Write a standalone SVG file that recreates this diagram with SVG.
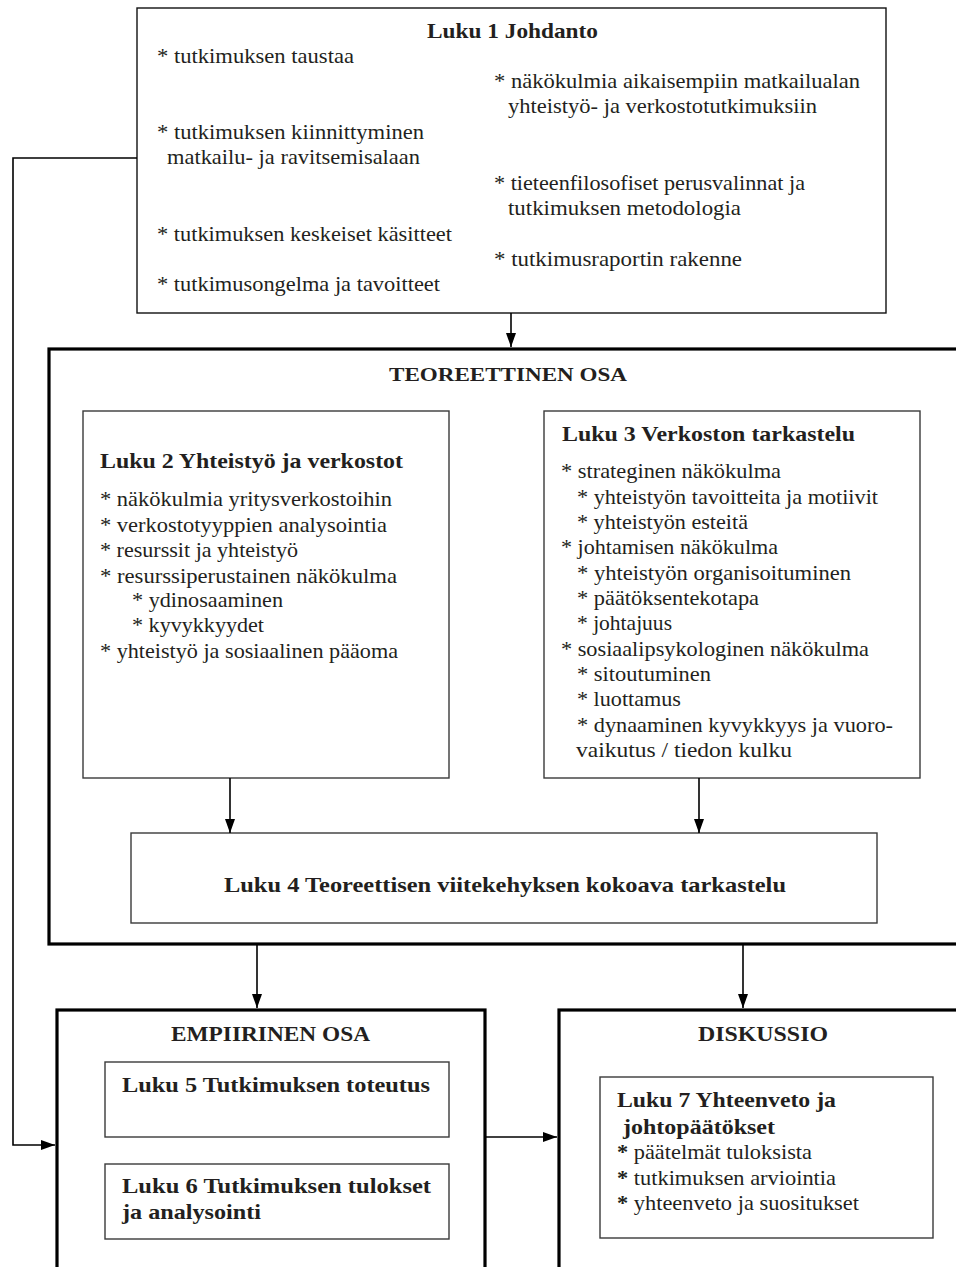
<svg xmlns="http://www.w3.org/2000/svg" width="956" height="1267" viewBox="0 0 956 1267">
  <style>
    text { font-family: "Liberation Serif", "DejaVu Serif", serif; fill: #231f20; }
    .t { font-size: 22px; font-weight: bold; }
    .b { font-size: 21px; }
    .h { font-size: 21px; font-weight: bold; }
    .cap { font-size: 19px; font-weight: bold; }
    .st { font-weight: bold; }
    .thin { fill: #fff; stroke: #111; stroke-width: 1.4; }
    .inner { fill: #fff; stroke: #3a3a3a; stroke-width: 1.4; }
    .thick { fill: #fff; stroke: #000; stroke-width: 3.2; }
    .con { fill: none; stroke: #000; stroke-width: 1.6; }
  </style>
  <defs>
    <marker id="arr" markerUnits="userSpaceOnUse" viewBox="0 0 14 10" markerWidth="14" markerHeight="10" refX="14" refY="5" orient="auto">
      <path d="M0,0 L14,5 L0,10 z" fill="#000"/>
    </marker>
  </defs>
  <rect width="956" height="1267" fill="#fff"/>

  <!-- Chapter 1 -->
  <g id="luku1">
    <rect class="thin" x="137" y="8" width="749" height="305"/>
    <text class="t" x="427" y="38" textLength="171" lengthAdjust="spacingAndGlyphs">Luku 1 Johdanto</text>
    <text class="b" x="157" y="63" textLength="197" lengthAdjust="spacingAndGlyphs">* tutkimuksen taustaa</text>
    <text class="b" x="494" y="88" textLength="366" lengthAdjust="spacingAndGlyphs">* näkökulmia aikaisempiin matkailualan</text>
    <text class="b" x="508" y="113" textLength="309" lengthAdjust="spacingAndGlyphs">yhteistyö- ja verkostotutkimuksiin</text>
    <text class="b" x="157" y="139" textLength="267" lengthAdjust="spacingAndGlyphs">* tutkimuksen kiinnittyminen</text>
    <text class="b" x="167" y="164" textLength="253" lengthAdjust="spacingAndGlyphs">matkailu- ja ravitsemisalaan</text>
    <text class="b" x="494" y="190" textLength="311" lengthAdjust="spacingAndGlyphs">* tieteenfilosofiset perusvalinnat ja</text>
    <text class="b" x="508" y="215" textLength="233" lengthAdjust="spacingAndGlyphs">tutkimuksen metodologia</text>
    <text class="b" x="157" y="241" textLength="295" lengthAdjust="spacingAndGlyphs">* tutkimuksen keskeiset käsitteet</text>
    <text class="b" x="494" y="266" textLength="248" lengthAdjust="spacingAndGlyphs">* tutkimusraportin rakenne</text>
    <text class="b" x="157" y="291" textLength="283" lengthAdjust="spacingAndGlyphs">* tutkimusongelma ja tavoitteet</text>
  </g>

  <!-- Theoretical part -->
  <g id="teoreettinen">
    <rect class="thick" x="49" y="349" width="930" height="595"/>
    <text class="cap" x="389" y="381" textLength="238" lengthAdjust="spacingAndGlyphs">TEOREETTINEN OSA</text>
  </g>

  <g id="luku2">
    <rect class="inner" x="83" y="411" width="366" height="367"/>
    <text class="h" x="100" y="468" textLength="303" lengthAdjust="spacingAndGlyphs">Luku 2 Yhteistyö ja verkostot</text>
    <text class="b" x="100" y="506" textLength="292" lengthAdjust="spacingAndGlyphs">* näkökulmia yritysverkostoihin</text>
    <text class="b" x="100" y="532" textLength="287" lengthAdjust="spacingAndGlyphs">* verkostotyyppien analysointia</text>
    <text class="b" x="100" y="557" textLength="198" lengthAdjust="spacingAndGlyphs">* resurssit ja yhteistyö</text>
    <text class="b" x="100" y="583" textLength="297" lengthAdjust="spacingAndGlyphs">* resurssiperustainen näkökulma</text>
    <text class="b" x="132" y="607" textLength="151" lengthAdjust="spacingAndGlyphs">* ydinosaaminen</text>
    <text class="b" x="132" y="632" textLength="132" lengthAdjust="spacingAndGlyphs">* kyvykkyydet</text>
    <text class="b" x="100" y="658" textLength="298" lengthAdjust="spacingAndGlyphs">* yhteistyö ja sosiaalinen pääoma</text>
  </g>

  <g id="luku3">
    <rect class="inner" x="544" y="411" width="376" height="367"/>
    <text class="h" x="562" y="441" textLength="293" lengthAdjust="spacingAndGlyphs">Luku 3 Verkoston tarkastelu</text>
    <text class="b" x="561" y="478" textLength="220" lengthAdjust="spacingAndGlyphs">* strateginen näkökulma</text>
    <text class="b" x="577" y="504" textLength="301" lengthAdjust="spacingAndGlyphs">* yhteistyön tavoitteita ja motiivit</text>
    <text class="b" x="577" y="529" textLength="171" lengthAdjust="spacingAndGlyphs">* yhteistyön esteitä</text>
    <text class="b" x="561" y="554" textLength="217" lengthAdjust="spacingAndGlyphs">* johtamisen näkökulma</text>
    <text class="b" x="577" y="580" textLength="274" lengthAdjust="spacingAndGlyphs">* yhteistyön organisoituminen</text>
    <text class="b" x="577" y="605" textLength="182" lengthAdjust="spacingAndGlyphs">* päätöksentekotapa</text>
    <text class="b" x="577" y="630" textLength="95" lengthAdjust="spacingAndGlyphs">* johtajuus</text>
    <text class="b" x="561" y="656" textLength="308" lengthAdjust="spacingAndGlyphs">* sosiaalipsykologinen näkökulma</text>
    <text class="b" x="577" y="681" textLength="134" lengthAdjust="spacingAndGlyphs">* sitoutuminen</text>
    <text class="b" x="577" y="706" textLength="104" lengthAdjust="spacingAndGlyphs">* luottamus</text>
    <text class="b" x="577" y="732" textLength="316" lengthAdjust="spacingAndGlyphs">* dynaaminen kyvykkyys ja vuoro-</text>
    <text class="b" x="576" y="757" textLength="216" lengthAdjust="spacingAndGlyphs">vaikutus / tiedon kulku</text>
  </g>

  <g id="luku4">
    <rect class="inner" x="131" y="833" width="746" height="90"/>
    <text class="h" x="224" y="892" textLength="562" lengthAdjust="spacingAndGlyphs">Luku 4 Teoreettisen viitekehyksen kokoava tarkastelu</text>
  </g>

  <!-- Empirical part -->
  <g id="empiirinen">
    <rect class="thick" x="57" y="1010" width="428" height="280"/>
    <text class="t" x="171" y="1041" textLength="199" lengthAdjust="spacingAndGlyphs">EMPIIRINEN OSA</text>
  </g>
  <g id="luku5">
    <rect class="inner" x="105" y="1062" width="344" height="75"/>
    <text class="t" x="122" y="1092" textLength="308" lengthAdjust="spacingAndGlyphs">Luku 5 Tutkimuksen toteutus</text>
  </g>
  <g id="luku6">
    <rect class="inner" x="105" y="1164" width="344" height="75"/>
    <text class="t" x="122" y="1193" textLength="309" lengthAdjust="spacingAndGlyphs">Luku 6 Tutkimuksen tulokset</text>
    <text class="t" x="122" y="1219" textLength="139" lengthAdjust="spacingAndGlyphs">ja analysointi</text>
  </g>

  <!-- Discussion -->
  <g id="diskussio">
    <rect class="thick" x="559" y="1010" width="420" height="280"/>
    <text class="t" x="698" y="1041" textLength="130" lengthAdjust="spacingAndGlyphs">DISKUSSIO</text>
  </g>
  <g id="luku7">
    <rect class="inner" x="600" y="1077" width="333" height="161"/>
    <text class="t" x="617" y="1107" textLength="219" lengthAdjust="spacingAndGlyphs">Luku 7 Yhteenveto ja</text>
    <text class="t" x="623" y="1134" textLength="152" lengthAdjust="spacingAndGlyphs">johtopäätökset</text>
    <text class="b" x="617" y="1159" textLength="195" lengthAdjust="spacingAndGlyphs"><tspan class="st">*</tspan> päätelmät tuloksista</text>
    <text class="b" x="617" y="1185" textLength="219" lengthAdjust="spacingAndGlyphs"><tspan class="st">*</tspan> tutkimuksen arviointia</text>
    <text class="b" x="617" y="1210" textLength="242" lengthAdjust="spacingAndGlyphs"><tspan class="st">*</tspan> yhteenveto ja suositukset</text>
  </g>

  <!-- Connectors -->
  <g id="connectors">
    <line class="con" x1="511" y1="313" x2="511" y2="347" marker-end="url(#arr)"/>
    <line class="con" x1="230" y1="778" x2="230" y2="833" marker-end="url(#arr)"/>
    <line class="con" x1="699" y1="778" x2="699" y2="833" marker-end="url(#arr)"/>
    <line class="con" x1="257" y1="945" x2="257" y2="1008" marker-end="url(#arr)"/>
    <line class="con" x1="743" y1="945" x2="743" y2="1008" marker-end="url(#arr)"/>
    <line class="con" x1="486" y1="1137" x2="557" y2="1137" marker-end="url(#arr)"/>
    <polyline class="con" points="137,158 13,158 13,1145 55,1145" marker-end="url(#arr)"/>
  </g>
</svg>
